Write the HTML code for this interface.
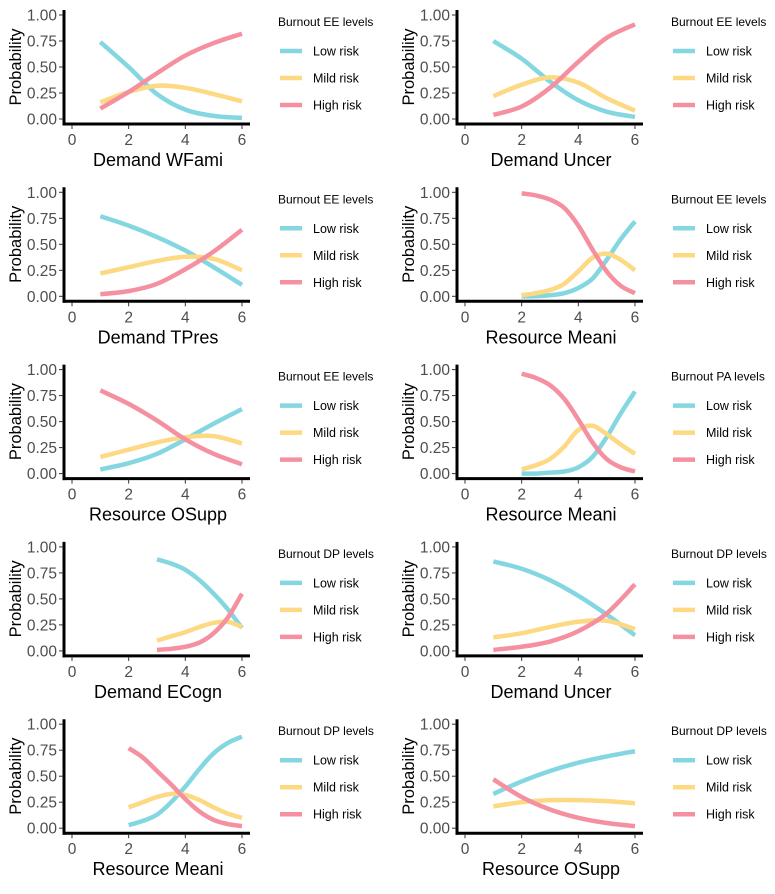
<!DOCTYPE html>
<html><head><meta charset="utf-8"><style>
body{margin:0;background:#fff;width:775px;height:889px;overflow:hidden}
svg text{font-family:"Liberation Sans",sans-serif}
</style></head><body>
<svg id="c" width="775" height="889"></svg>
<script>
const panelTitles=["Demand WFami","Demand Uncer","Demand TPres","Resource Meani","Resource OSupp","Resource Meani","Demand ECogn","Demand Uncer","Resource Meani","Resource OSupp"];
const legendTitles=["Burnout EE levels","Burnout EE levels","Burnout EE levels","Burnout EE levels","Burnout EE levels","Burnout PA levels","Burnout DP levels","Burnout DP levels","Burnout DP levels","Burnout DP levels"];
const xInt=[1,2,3,4,5,6];
const xHalf2=[2,2.5,3,3.5,4,4.5,5,5.5,6];
const xHalf3=[3,3.5,4,4.5,5,5.5,6];
const xs=[xInt,xInt,xInt,xHalf2,xInt,xHalf2,xHalf3,xInt,xHalf2,xInt];
const lowRisk=[
[.74,.50,.24,.09,.03,.01],
[.75,.58,.36,.18,.07,.02],
[.77,.68,.57,.44,.28,.11],
[0,0,.01,.03,.08,.17,.35,.55,.72],
[.04,.10,.19,.33,.48,.62],
[0,0,.01,.02,.06,.16,.35,.58,.79],
[.88,.84,.78,.68,.55,.40,.22],
[.86,.79,.68,.53,.35,.15],
[.03,.07,.13,.25,.40,.57,.72,.82,.88],
[.33,.45,.55,.63,.69,.74]];
const mildRisk=[
[.16,.26,.32,.30,.24,.17],
[.22,.33,.40,.35,.20,.08],
[.22,.28,.34,.38,.36,.25],
[.01,.03,.06,.12,.24,.37,.41,.35,.25],
[.16,.23,.30,.35,.36,.29],
[.04,.08,.14,.26,.42,.46,.38,.28,.19],
[.10,.14,.18,.23,.27,.28,.23],
[.13,.17,.23,.28,.29,.21],
[.20,.25,.30,.33,.32,.27,.20,.14,.10],
[.21,.25,.27,.27,.26,.24]];
const highRisk=[
[.10,.26,.44,.61,.73,.82],
[.04,.12,.30,.55,.78,.91],
[.02,.05,.12,.26,.43,.64],
[.99,.97,.93,.85,.68,.45,.24,.10,.03],
[.80,.67,.51,.33,.19,.09],
[.96,.92,.85,.72,.52,.30,.14,.06,.02],
[.01,.02,.04,.08,.17,.32,.55],
[.01,.04,.09,.19,.36,.64],
[.77,.68,.55,.42,.28,.16,.08,.04,.02],
[.47,.30,.18,.10,.05,.02]];
const yTicks=["0.00","0.25","0.50","0.75","1.00"];
const xTicks=[0,2,4,6];
const seriesNames=["Low risk","Mild risk","High risk"];
const colors=["#84d7e1","#fcd982","#f4909f"];
const NS="http://www.w3.org/2000/svg";
const svg=document.getElementById('c');
function mk(t,a,p){const e=document.createElementNS(NS,t);for(const k in a)e.setAttribute(k,a[k]);(p||svg).appendChild(e);return e;}
function sx(v){return 72+v*28.33;}
function sy(p){return 119-p*104;}
function pathFor(X,Y){const P=X.map((x,i)=>[sx(x),sy(Y[i])]);let d="M"+P[0][0]+","+P[0][1];
for(let i=0;i<P.length-1;i++){const p0=P[i-1]||P[i],p1=P[i],p2=P[i+1],p3=P[i+2]||p2;
d+=` C${p1[0]+(p2[0]-p0[0])/6},${p1[1]+(p2[1]-p0[1])/6} ${p2[0]-(p3[0]-p1[0])/6},${p2[1]-(p3[1]-p1[1])/6} ${p2[0]},${p2[1]}`;}return d;}
for(let i=0;i<10;i++){
  const col=i%2,row=Math.floor(i/2);
  const g=mk('g',{transform:`translate(${col*393},${(row*177.3).toFixed(1)})`});
  
  
  const sers=[lowRisk[i],mildRisk[i],highRisk[i]];
  sers.forEach((Y,s)=>{const p=mk('path',{d:pathFor(xs[i],Y),fill:'none',stroke:colors[s],'stroke-width':4.5,'stroke-linecap':'butt'},g);
    
    });
  const ya=mk('line',{x1:64,y1:10,x2:64,y2:125.5,stroke:'#000','stroke-width':3},g);
  
  const xa=mk('line',{x1:62.5,y1:124,x2:250,y2:124,stroke:'#000','stroke-width':3},g);
  
  yTicks.forEach((t,k)=>{const y=sy(k*0.25);mk('line',{x1:59,y1:y,x2:63,y2:y,stroke:'#333','stroke-width':1},g);
    const tx=mk('text',{x:57,y:y+5.5,'text-anchor':'end','font-size':15.5,fill:'#4d4d4d'},g);tx.textContent=t;
    });
  xTicks.forEach(t=>{const x=sx(t);mk('line',{x1:x,y1:125,x2:x,y2:129,stroke:'#333','stroke-width':1},g);
    const tx=mk('text',{x:x,y:145,'text-anchor':'middle','font-size':15.5,fill:'#4d4d4d'},g);tx.textContent=t;
    });
  const yt=mk('text',{x:0,y:0,transform:'translate(21,67) rotate(-90)','text-anchor':'middle','font-size':16.5,fill:'#000'},g);yt.textContent='Probability';
  
  const xt=mk('text',{x:158,y:166,'text-anchor':'middle','font-size':18,fill:'#000'},g);xt.textContent=panelTitles[i];
  
  const lt=mk('text',{x:278,y:26,'font-size':12,fill:'#000'},g);lt.textContent=legendTitles[i];
  
  seriesNames.forEach((n,s)=>{const y=51+s*27;
    const sw=mk('line',{x1:280,y1:y,x2:302,y2:y,stroke:colors[s],'stroke-width':4.5},g);
    
    const tx=mk('text',{x:313,y:y+4.5,'font-size':12.5,fill:'#000'},g);tx.textContent=n;
    });
}
</script>
</body></html>
